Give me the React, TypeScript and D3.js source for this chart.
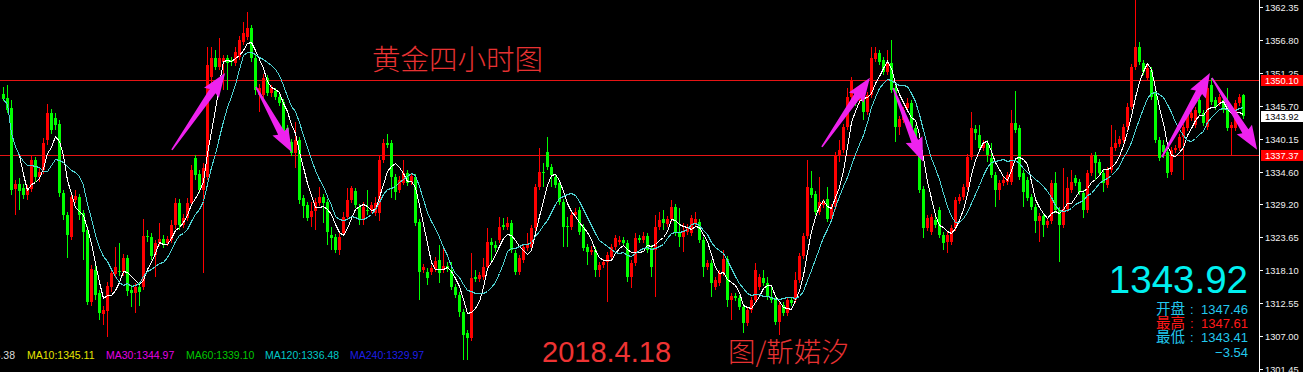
import React from 'react';
import * as d3 from 'd3';

const W = 1303;
const H = 372;
const AXIS_X = 1259;

// ---- OHLC data (XAUUSD, 4-hour bars) ----
const opens = [
  1347.7, 1347.0, 1345.4, 1331.7, 1332.6, 1331.9, 1330.7, 1331.7, 1336.6, 1333.7,
  1334.9, 1340.0, 1344.5, 1343.7, 1342.7, 1331.0, 1327.4, 1323.7, 1329.9, 1330.4,
  1327.7, 1324.8, 1312.7, 1318.1, 1314.2, 1310.7, 1311.2, 1315.3, 1317.4, 1317.9,
  1317.8, 1320.1, 1314.8, 1314.2, 1315.3, 1315.3, 1323.8, 1323.7, 1320.6, 1322.7,
  1323.3, 1322.7, 1323.2, 1325.7, 1329.4, 1325.7, 1326.9, 1329.4, 1336.9, 1334.3,
  1331.6, 1333.7, 1350.6, 1353.8, 1352.3, 1353.1, 1353.8, 1353.4, 1352.9, 1353.9,
  1356.5, 1357.3, 1358.8, 1353.8, 1347.6, 1347.6, 1350.4, 1347.9, 1348.2, 1347.2,
  1346.4, 1342.0, 1339.6, 1337.8, 1340.0, 1330.2, 1329.0, 1327.0, 1328.0, 1329.4,
  1330.4, 1329.5, 1324.0, 1323.7, 1321.5, 1324.3, 1327.0, 1329.9, 1331.4, 1328.7,
  1326.5, 1328.2, 1328.2, 1327.7, 1327.7, 1336.6, 1339.5, 1339.5, 1333.7, 1331.6,
  1332.8, 1334.4, 1332.9, 1333.7, 1326.2, 1318.1, 1317.8, 1317.8, 1318.3, 1319.8,
  1318.1, 1318.8, 1318.1, 1315.3, 1313.9, 1311.0, 1307.5, 1306.7, 1316.9, 1316.6,
  1316.9, 1318.6, 1322.8, 1322.3, 1323.2, 1325.7, 1325.4, 1326.0, 1321.0, 1317.8,
  1319.8, 1321.8, 1322.0, 1325.2, 1332.1, 1334.6, 1338.0, 1335.4, 1333.7, 1332.8,
  1329.5, 1325.5, 1325.4, 1327.4, 1328.2, 1325.4, 1322.0, 1321.1, 1321.5, 1318.1,
  1319.0, 1319.5, 1320.3, 1322.0, 1322.8, 1323.2, 1322.7, 1316.9, 1319.3, 1323.5,
  1323.2, 1323.8, 1321.8, 1321.5, 1325.4, 1326.7, 1325.9, 1326.7, 1328.7, 1324.3,
  1323.7, 1324.5, 1324.3, 1326.0, 1326.2, 1323.2, 1318.6, 1319.3, 1315.3, 1315.9,
  1317.6, 1320.0, 1313.1, 1313.7, 1313.4, 1311.9, 1309.2, 1311.4, 1313.1, 1315.3,
  1316.8, 1315.9, 1313.6, 1313.1, 1309.4, 1312.2, 1310.9, 1313.1, 1313.1, 1316.4,
  1320.5, 1323.8, 1331.9, 1330.9, 1327.9, 1329.0, 1330.1, 1326.7, 1328.7, 1337.5,
  1338.3, 1342.2, 1347.2, 1347.9, 1346.7, 1347.2, 1344.7, 1347.6, 1353.6, 1354.6,
  1353.4, 1351.4, 1352.9, 1348.7, 1342.2, 1343.3, 1345.4, 1346.2, 1342.0, 1337.5,
  1331.7, 1325.2, 1324.5, 1326.5, 1328.2, 1324.0, 1322.8, 1322.8, 1325.2, 1329.7,
  1330.4, 1332.1, 1337.1, 1341.8, 1340.8, 1338.6, 1339.5, 1336.9, 1334.1, 1331.6,
  1332.8, 1332.9, 1332.9, 1342.8, 1342.0, 1334.4, 1333.3, 1330.4, 1328.7, 1326.4,
  1327.2, 1325.7, 1326.4, 1332.8, 1328.2, 1325.7, 1328.4, 1331.6, 1333.6, 1332.9,
  1331.0, 1328.2, 1334.4, 1337.5, 1336.3, 1334.4, 1332.4, 1334.9, 1338.6, 1339.3,
  1340.0, 1342.2, 1345.5, 1352.3, 1355.5, 1352.9, 1350.4, 1351.8, 1347.9, 1340.0,
  1339.1, 1338.0, 1334.6, 1338.3, 1338.6, 1340.5, 1342.0, 1343.7, 1342.5, 1346.7,
  1344.5, 1342.2, 1349.2, 1346.7, 1346.2, 1346.7, 1346.2, 1342.0, 1342.0, 1346.2,
  1347.46,
];

const highs = [
  1348.9, 1349.2, 1346.7, 1333.3, 1333.6, 1332.6, 1332.4, 1337.5, 1337.1, 1335.3,
  1340.3, 1346.0, 1345.2, 1344.5, 1343.3, 1331.6, 1327.9, 1331.0, 1331.6, 1330.9,
  1328.2, 1325.5, 1319.0, 1318.8, 1314.8, 1312.1, 1316.1, 1318.5, 1322.0, 1322.7,
  1320.8, 1320.6, 1315.6, 1315.9, 1315.9, 1326.7, 1324.8, 1324.3, 1323.2, 1326.0,
  1324.0, 1323.8, 1326.5, 1330.2, 1330.1, 1327.5, 1330.2, 1335.8, 1337.5, 1334.9,
  1336.1, 1355.6, 1355.6, 1355.1, 1357.1, 1354.3, 1354.3, 1353.9, 1355.5, 1357.5,
  1359.8, 1361.5, 1359.2, 1354.3, 1349.4, 1351.1, 1350.9, 1349.2, 1348.7, 1347.7,
  1346.9, 1342.5, 1340.1, 1343.0, 1340.5, 1330.7, 1329.5, 1329.5, 1330.2, 1332.1,
  1330.9, 1330.1, 1325.4, 1324.2, 1324.3, 1327.9, 1331.9, 1332.2, 1331.9, 1329.2,
  1329.5, 1331.6, 1329.5, 1330.4, 1337.5, 1340.1, 1341.0, 1340.0, 1334.3, 1333.9,
  1336.6, 1334.9, 1334.4, 1334.3, 1326.7, 1319.1, 1318.5, 1319.0, 1320.3, 1322.3,
  1322.0, 1319.5, 1319.5, 1315.8, 1314.4, 1311.6, 1308.0, 1321.0, 1318.1, 1317.8,
  1320.1, 1325.2, 1323.5, 1323.0, 1327.0, 1326.9, 1327.0, 1326.5, 1321.5, 1320.6,
  1322.5, 1324.3, 1325.7, 1332.6, 1338.6, 1336.1, 1340.5, 1335.9, 1334.3, 1333.3,
  1330.1, 1327.0, 1328.0, 1328.5, 1328.7, 1325.9, 1322.5, 1322.1, 1322.0, 1319.5,
  1320.0, 1321.1, 1322.5, 1324.0, 1323.8, 1323.7, 1323.2, 1319.8, 1324.3, 1324.0,
  1324.5, 1324.3, 1322.3, 1327.4, 1327.9, 1328.2, 1327.2, 1329.9, 1329.2, 1328.5,
  1326.0, 1325.9, 1327.4, 1327.9, 1326.7, 1323.7, 1319.8, 1319.8, 1316.9, 1318.1,
  1321.5, 1320.5, 1314.2, 1314.2, 1313.9, 1312.4, 1311.9, 1313.6, 1319.3, 1317.4,
  1318.1, 1316.9, 1315.3, 1313.6, 1312.7, 1312.7, 1313.6, 1313.6, 1317.8, 1321.0,
  1324.3, 1336.6, 1334.8, 1331.4, 1333.7, 1330.1, 1332.1, 1329.2, 1338.0, 1340.0,
  1342.7, 1348.7, 1350.6, 1348.4, 1347.7, 1347.7, 1348.1, 1355.6, 1355.6, 1355.1,
  1353.9, 1355.1, 1356.8, 1349.2, 1344.0, 1345.5, 1347.0, 1346.7, 1342.5, 1338.0,
  1332.2, 1327.4, 1327.5, 1327.0, 1328.7, 1324.5, 1324.5, 1325.7, 1330.4, 1330.9,
  1332.6, 1337.6, 1344.7, 1342.5, 1342.5, 1340.0, 1340.0, 1339.5, 1334.6, 1333.3,
  1333.7, 1334.6, 1345.0, 1348.2, 1342.5, 1334.9, 1333.7, 1330.9, 1329.2, 1327.7,
  1327.7, 1326.9, 1333.3, 1334.6, 1328.7, 1335.3, 1333.7, 1334.9, 1334.1, 1333.4,
  1331.6, 1334.9, 1337.8, 1338.0, 1336.8, 1334.9, 1335.4, 1342.5, 1341.7, 1340.7,
  1342.7, 1346.2, 1352.8, 1363.4, 1356.5, 1353.4, 1352.6, 1352.3, 1348.4, 1340.5,
  1340.0, 1338.5, 1338.8, 1339.1, 1341.0, 1342.7, 1344.7, 1345.0, 1345.5, 1347.2,
  1345.0, 1349.2, 1350.4, 1347.2, 1347.7, 1347.2, 1348.7, 1343.0, 1346.7, 1347.7,
  1347.61,
];

const lows = [
  1346.5, 1344.5, 1330.7, 1327.4, 1328.2, 1330.1, 1329.9, 1331.2, 1332.9, 1332.9,
  1334.3, 1339.1, 1341.0, 1341.7, 1330.4, 1326.5, 1320.1, 1323.2, 1329.4, 1326.5,
  1319.8, 1312.2, 1312.1, 1313.1, 1309.7, 1308.9, 1306.9, 1314.4, 1316.8, 1317.1,
  1317.1, 1313.7, 1311.9, 1310.9, 1312.1, 1314.8, 1322.8, 1319.8, 1316.9, 1322.1,
  1321.8, 1322.1, 1322.7, 1325.0, 1324.8, 1325.2, 1326.4, 1328.9, 1333.3, 1331.0,
  1317.6, 1333.3, 1349.2, 1351.8, 1351.8, 1348.4, 1348.4, 1352.4, 1352.4, 1353.4,
  1356.0, 1356.8, 1353.1, 1347.6, 1344.7, 1347.0, 1347.4, 1347.2, 1346.7, 1345.7,
  1340.7, 1340.3, 1337.3, 1335.3, 1329.2, 1326.9, 1326.4, 1325.4, 1324.8, 1328.9,
  1326.0, 1322.3, 1321.5, 1321.0, 1320.6, 1323.8, 1326.5, 1329.4, 1328.5, 1325.7,
  1325.7, 1327.4, 1327.7, 1327.2, 1326.4, 1336.1, 1338.6, 1330.2, 1329.9, 1331.0,
  1332.4, 1332.2, 1332.4, 1325.5, 1313.1, 1317.6, 1315.6, 1317.3, 1317.8, 1315.9,
  1317.6, 1317.8, 1314.8, 1313.4, 1310.2, 1303.0, 1303.0, 1306.2, 1316.1, 1316.1,
  1316.4, 1318.1, 1319.5, 1321.1, 1322.7, 1324.8, 1324.8, 1321.0, 1317.3, 1317.3,
  1319.3, 1321.3, 1321.5, 1324.7, 1331.6, 1332.1, 1334.9, 1332.1, 1331.9, 1329.0,
  1322.0, 1322.0, 1324.8, 1326.9, 1324.0, 1321.3, 1319.0, 1320.6, 1316.9, 1316.9,
  1318.5, 1312.7, 1319.8, 1321.5, 1322.3, 1322.1, 1316.1, 1315.1, 1318.8, 1322.7,
  1322.7, 1321.0, 1316.9, 1313.6, 1324.8, 1324.8, 1325.4, 1326.2, 1323.8, 1322.0,
  1321.1, 1324.0, 1323.8, 1325.5, 1322.7, 1316.9, 1318.1, 1313.6, 1314.8, 1315.4,
  1317.1, 1311.9, 1309.7, 1312.9, 1311.4, 1307.5, 1308.7, 1310.9, 1312.6, 1314.8,
  1315.4, 1313.1, 1312.6, 1308.9, 1307.2, 1310.4, 1310.4, 1312.1, 1312.6, 1315.9,
  1320.0, 1323.3, 1330.2, 1327.4, 1327.4, 1328.5, 1326.2, 1326.2, 1328.2, 1336.3,
  1337.8, 1341.7, 1346.7, 1345.7, 1346.0, 1343.3, 1344.2, 1347.0, 1353.1, 1352.6,
  1350.9, 1350.9, 1347.9, 1339.6, 1340.8, 1342.8, 1344.9, 1341.5, 1339.5, 1331.0,
  1323.5, 1324.7, 1324.0, 1325.2, 1323.5, 1321.5, 1321.0, 1322.3, 1324.7, 1329.2,
  1329.9, 1331.6, 1336.6, 1340.0, 1338.1, 1338.1, 1336.3, 1333.6, 1328.7, 1329.9,
  1332.2, 1332.4, 1332.4, 1341.2, 1333.3, 1328.7, 1329.7, 1328.2, 1324.3, 1322.8,
  1323.7, 1325.2, 1325.9, 1327.7, 1319.5, 1325.2, 1327.9, 1331.0, 1332.2, 1330.7,
  1326.9, 1327.7, 1333.9, 1333.3, 1333.9, 1331.2, 1331.9, 1334.4, 1338.1, 1338.8,
  1339.5, 1341.7, 1345.0, 1351.8, 1352.6, 1350.9, 1349.9, 1346.7, 1339.5, 1336.4,
  1336.9, 1333.6, 1334.1, 1337.8, 1338.1, 1333.3, 1341.5, 1343.2, 1342.0, 1344.0,
  1342.3, 1341.7, 1345.9, 1345.0, 1345.7, 1344.5, 1341.5, 1337.5, 1341.5, 1345.7,
  1343.41,
];

const closes = [
  1346.9, 1345.0, 1331.6, 1332.6, 1331.4, 1330.7, 1331.9, 1336.6, 1333.7, 1334.6,
  1339.5, 1344.5, 1341.7, 1342.5, 1331.0, 1327.4, 1324.0, 1330.4, 1330.6, 1327.4,
  1324.5, 1312.7, 1318.3, 1313.9, 1310.9, 1311.4, 1315.4, 1317.6, 1318.6, 1317.8,
  1320.1, 1314.6, 1314.2, 1315.3, 1314.4, 1323.8, 1323.7, 1320.5, 1322.7, 1323.3,
  1322.5, 1323.3, 1325.7, 1329.4, 1325.7, 1326.9, 1329.4, 1334.9, 1334.1, 1331.6,
  1335.3, 1352.6, 1353.8, 1352.3, 1353.8, 1353.8, 1352.9, 1353.1, 1354.8, 1356.8,
  1358.0, 1358.8, 1353.8, 1348.4, 1348.7, 1350.4, 1347.9, 1348.7, 1347.2, 1346.2,
  1341.2, 1340.8, 1337.8, 1340.0, 1329.9, 1328.9, 1326.9, 1328.0, 1329.5, 1330.4,
  1329.4, 1324.5, 1323.5, 1321.5, 1323.7, 1327.0, 1329.9, 1331.9, 1329.0, 1326.5,
  1328.7, 1328.0, 1329.0, 1329.4, 1336.6, 1339.5, 1339.1, 1333.7, 1331.2, 1333.3,
  1334.4, 1332.8, 1333.9, 1326.0, 1317.8, 1318.6, 1316.8, 1318.5, 1319.6, 1317.6,
  1318.8, 1318.5, 1315.3, 1313.9, 1311.0, 1307.2, 1306.7, 1316.8, 1316.6, 1317.3,
  1318.6, 1322.8, 1322.3, 1321.8, 1325.4, 1325.4, 1326.0, 1321.5, 1317.8, 1320.1,
  1322.0, 1322.3, 1325.2, 1332.1, 1334.6, 1334.4, 1335.4, 1334.1, 1332.4, 1329.5,
  1325.4, 1325.4, 1327.4, 1327.9, 1324.5, 1321.8, 1321.1, 1321.5, 1318.1, 1319.0,
  1319.5, 1320.6, 1322.0, 1323.5, 1323.2, 1322.7, 1316.9, 1319.3, 1323.5, 1323.2,
  1323.8, 1321.5, 1318.6, 1325.4, 1326.5, 1326.0, 1326.7, 1328.7, 1324.3, 1323.7,
  1324.5, 1325.4, 1326.9, 1326.7, 1323.2, 1318.6, 1319.3, 1315.9, 1316.4, 1317.6,
  1320.0, 1313.1, 1313.7, 1313.4, 1311.9, 1309.2, 1311.4, 1313.1, 1318.1, 1316.9,
  1315.9, 1313.6, 1313.1, 1309.4, 1312.2, 1310.9, 1313.1, 1312.6, 1316.4, 1320.5,
  1323.8, 1332.1, 1330.7, 1327.9, 1329.5, 1329.5, 1326.7, 1328.7, 1337.5, 1338.3,
  1342.2, 1347.2, 1350.1, 1346.2, 1347.2, 1344.7, 1347.6, 1353.8, 1354.6, 1353.1,
  1351.4, 1352.9, 1348.4, 1342.2, 1343.5, 1345.0, 1346.2, 1342.0, 1340.0, 1331.6,
  1325.2, 1326.9, 1327.0, 1325.7, 1324.0, 1322.7, 1324.0, 1325.2, 1329.9, 1330.4,
  1332.1, 1337.1, 1342.0, 1341.2, 1338.6, 1339.5, 1337.5, 1334.1, 1331.6, 1332.8,
  1333.3, 1334.1, 1342.8, 1341.7, 1333.7, 1331.2, 1330.2, 1328.7, 1326.4, 1327.2,
  1325.7, 1326.4, 1332.8, 1328.2, 1325.7, 1328.4, 1331.9, 1332.9, 1332.8, 1331.2,
  1328.2, 1334.4, 1337.5, 1336.1, 1334.4, 1332.8, 1334.9, 1338.8, 1339.5, 1340.1,
  1342.2, 1345.5, 1352.3, 1355.5, 1353.1, 1351.4, 1352.1, 1347.2, 1340.0, 1336.9,
  1338.0, 1334.4, 1338.3, 1338.6, 1340.5, 1342.2, 1344.2, 1344.5, 1345.0, 1344.5,
  1342.8, 1348.7, 1346.4, 1345.5, 1347.2, 1345.0, 1342.0, 1342.5, 1346.2, 1347.2,
  1343.92,
];

// ---- axis / annotations ----
const priceTicks = [1362.35, 1356.8, 1351.25, 1345.7, 1340.15, 1334.6, 1329.2, 1323.65, 1318.1, 1312.55, 1307.0, 1301.45];
const levelLines = [1350.1, 1337.37];
const lastPrice = 1343.92;
const maPeriods = [5, 10];
const maColors = ['#ffffff', '#4fd3d3'];

// arrows: [tail bar index, tail price, tip bar index, tip price]
const arrows = [
  [42.1, 1338.3, 55.4, 1351.2],
  [63.1, 1348.9, 72.1, 1337.9],
  [204.6, 1338.8, 216.6, 1350.4],
  [222.4, 1348.7, 229.9, 1336.3],
  [289.6, 1337.1, 301.6, 1351.2],
  [302.1, 1350.4, 313.4, 1338.3],
];

const legendLabels = ['MA5:1345.38', 'MA10:1345.11', 'MA30:1344.97', 'MA60:1339.10', 'MA120:1336.48', 'MA240:1329.97'];
const legendColors = ['#dcdcdc', '#e6e600', '#e600e6', '#00c800', '#00c8c8', '#1e1ee6'];
const legendX = [15, 27, 106, 186, 265, 350];

const infoLabels = ['开盘', '最高', '最低'];
const infoValues = [1347.46, 1347.61, 1343.41];
const infoColors = ['#22c8ee', '#ff1a1a', '#22c8ee'];
const changeValue = -3.54;

const RED = '#ff0000';
const GREEN = '#00ff00';
const LATIN = '"Liberation Sans", Arial, sans-serif';
const CJK = '"Noto Sans CJK SC", sans-serif';

function arrowPoints(x1: number, y1: number, x2: number, y2: number) {
  const dx = x2 - x1, dy = y2 - y1;
  const L = Math.hypot(dx, dy);
  const ux = dx / L, uy = dy / L;
  const nx = -uy, ny = ux;
  const hl = 22, hw = 9, sw0 = 0.8, sw1 = 3.6;
  const bx = x2 - ux * hl, by = y2 - uy * hl;
  const pts = [
    [x1 + nx * sw0, y1 + ny * sw0],
    [bx + nx * sw1, by + ny * sw1],
    [bx + nx * hw - ux * 2, by + ny * hw - uy * 2],
    [x2, y2],
    [bx - nx * hw - ux * 2, by - ny * hw - uy * 2],
    [bx - nx * sw1, by - ny * sw1],
    [x1 - nx * sw0, y1 - ny * sw0],
  ];
  return pts.map((p) => p.join(',')).join(' ');
}

export default function App() {
  const n = Math.min(opens.length, highs.length, lows.length, closes.length);
  const x = d3.scaleLinear().domain([0, 310]).range([2, 1242]);
  const y = d3.scaleLinear().domain([1300.98, 1363.48]).range([H, 0]);
  const idx = d3.range(n);

  const maLines = maPeriods.map((p) => {
    const vals = idx.map((i) => d3.mean(closes.slice(Math.max(0, i - p + 1), i + 1)) as number);
    const gen = d3
      .line<number>()
      .x((_, i) => x(i) + 1.5)
      .y((v) => Math.round(y(v)) + 0.5);
    return gen(vals) || '';
  });

  const fmt = d3.format('.2f');

  return (
    <svg
      width={W}
      height={H}
      style={{ position: 'absolute', left: 0, top: 0, display: 'block', background: '#000' }}
    >
      <rect x={0} y={0} width={W} height={H} fill="#000" />

      {/* level lines */}
      {levelLines.map((p) => (
        <line
          key={p}
          x1={0}
          x2={AXIS_X}
          y1={Math.round(y(p)) + 0.5}
          y2={Math.round(y(p)) + 0.5}
          stroke="#e61414"
          strokeWidth={1}
          shapeRendering="crispEdges"
        />
      ))}

      {/* candles */}
      <g shapeRendering="crispEdges">
        {idx.map((i) => {
          const o = opens[i], c = closes[i], h = highs[i], l = lows[i];
          const col = c >= o ? RED : GREEN;
          const bx = Math.round(x(i));
          const yTop = Math.round(y(Math.max(o, c)));
          const yBot = Math.round(y(Math.min(o, c)));
          const yh = Math.round(y(h));
          const yl = Math.round(y(l));
          return (
            <g key={i}>
              <rect x={bx + 1} y={yh} width={1} height={Math.max(1, yl - yh)} fill={col} />
              <rect x={bx} y={yTop} width={3} height={Math.max(1, yBot - yTop)} fill={col} />
            </g>
          );
        })}
      </g>

      {/* moving averages */}
      {maLines.map((d, k) => (
        <path key={k} d={d} fill="none" stroke={maColors[k]} strokeWidth={1} shapeRendering="crispEdges" />
      ))}

      {/* arrows */}
      {arrows.map((a, k) => (
        <polygon key={k} points={arrowPoints(x(a[0]) + 1.5, y(a[1]), x(a[2]) + 1.5, y(a[3]))} fill="#ee22ee" />
      ))}

      {/* title texts */}
      <text x={372} y={70} fill="#e83232" fontFamily={CJK} fontSize={28.5} fontWeight={300}>
        黄金四小时图
      </text>
      <text x={542} y={362} fill="#ee3333" fontFamily={LATIN} fontSize={29}>
        2018.4.18
      </text>
      <text x={728} y={362} fill="#e83232" fontFamily={CJK} fontSize={27.5} fontWeight={300}>
        图/靳婼汐
      </text>

      {/* info panel */}
      <text x={1248} y={293} textAnchor="end" fill="#00f0f0" fontFamily={LATIN} fontSize={38.5}>
        {fmt(lastPrice)}
      </text>
      {infoLabels.map((lab, k) => (
        <g key={lab}>
          <text x={1156} y={314 + k * 14} fill={infoColors[k]} fontFamily={CJK} fontSize={14.5}>
            {lab}
          </text>
          <text x={1190} y={314 + k * 14} fill={infoColors[k]} fontFamily={LATIN} fontSize={13}>
            :
          </text>
          <text x={1248} y={314 + k * 14} textAnchor="end" fill={infoColors[k]} fontFamily={LATIN} fontSize={13}>
            {fmt(infoValues[k])}
          </text>
        </g>
      ))}
      <text x={1248} y={357} textAnchor="end" fill="#22c8ee" fontFamily={LATIN} fontSize={13}>
        {fmt(changeValue)}
      </text>

      {/* MA legend */}
      {legendLabels.map((lab, k) => (
        <text
          key={lab}
          x={legendX[k]}
          y={359}
          textAnchor={k === 0 ? 'end' : 'start'}
          fill={legendColors[k]}
          fontFamily={LATIN}
          fontSize={10.5}
        >
          {lab}
        </text>
      ))}

      {/* price axis */}
      <line x1={AXIS_X + 0.5} x2={AXIS_X + 0.5} y1={0} y2={H} stroke="#fff" shapeRendering="crispEdges" />
      {priceTicks.map((t) => {
        const ty = Math.round(y(t)) + 0.5;
        return (
          <g key={t}>
            <line x1={AXIS_X} x2={AXIS_X + 4} y1={ty} y2={ty} stroke="#fff" shapeRendering="crispEdges" />
            <text x={1265} y={ty + 3.5} fill="#f0f0f0" fontFamily={LATIN} fontSize={9.3}>
              {fmt(t)}
            </text>
          </g>
        );
      })}
      {levelLines.map((p) => {
        const ty = Math.round(y(p));
        return (
          <g key={'b' + p}>
            <rect x={1261} y={ty - 5} width={42} height={11} fill="#ff0000" shapeRendering="crispEdges" />
            <text x={1265} y={ty + 4} fill="#fff" fontFamily={LATIN} fontSize={9.3}>
              {fmt(p)}
            </text>
          </g>
        );
      })}
      <rect x={1261} y={Math.round(y(lastPrice)) - 5} width={42} height={11} fill="#fff" shapeRendering="crispEdges" />
      <text x={1265} y={Math.round(y(lastPrice)) + 4} fill="#000" fontFamily={LATIN} fontSize={9.3}>
        {fmt(lastPrice)}
      </text>
    </svg>
  );
}
